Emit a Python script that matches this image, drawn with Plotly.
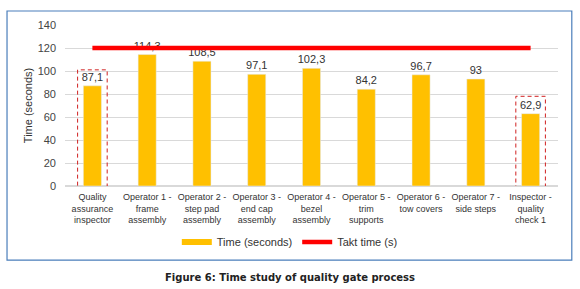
import plotly.graph_objects as go

categories = [
    "Quality<br>assurance<br>inspector",
    "Operator 1 -<br>frame<br>assembly",
    "Operator 2 -<br>step pad<br>assembly",
    "Operator 3 -<br>end cap<br>assembly",
    "Operator 4 -<br>bezel<br>assembly",
    "Operator 5 -<br>trim<br>supports",
    "Operator 6 -<br>tow covers",
    "Operator 7 -<br>side steps",
    "Inspector -<br>quality<br>check 1",
]
time_seconds = [87.1, 114.3, 108.5, 97.1, 102.3, 84.2, 96.7, 93.0, 62.9]
time_labels = ["87,1", "114,3", "108,5", "97,1", "102,3", "84,2", "96,7", "93", "62,9"]
takt_time = [120, 120, 120, 120, 120, 120, 120, 120, 120]
highlight_idx = [0, 8]
highlight_top = [101, 78]

x = list(range(len(categories)))

fig = go.Figure()
fig.add_trace(go.Bar(
    x=x, y=time_seconds, name="Time (seconds)", showlegend=False,
    marker=dict(color="#FFC000"),
    text=time_labels, textposition="outside", cliponaxis=False,
    constraintext="none",
    textfont=dict(family="Liberation Sans", size=11, color="#333333"),
))
# legend swatch for the bars (wide rectangle like the original)
fig.add_trace(go.Scatter(
    x=[None], y=[None], name="Time (seconds)", mode="lines",
    line=dict(color="#FFC000", width=6),
))
fig.add_trace(go.Scatter(
    x=x, y=takt_time, name="Takt time (s)", mode="lines",
    line=dict(color="#FF0000", width=4.5),
))

shapes = []
for i, top in zip(highlight_idx, highlight_top):
    shapes.append(dict(type="rect", xref="x", yref="y",
                       x0=i - 0.27, x1=i + 0.27, y0=-6, y1=top,
                       line=dict(color="#D02020", width=1, dash="4px,3px"),
                       fillcolor="rgba(0,0,0,0)"))
# outer frame
shapes.append(dict(type="rect", xref="paper", yref="paper",
                   x0=-0.1176, x1=1.028, y0=-0.46, y1=1.087,
                   line=dict(color="#4A7EBB", width=1.2), layer="below"))

fig.update_layout(
    width=580, height=289,
    margin=dict(l=65, r=22, t=25, b=103, autoexpand=False),
    paper_bgcolor="white", plot_bgcolor="white",
    bargap=0.67,
    showlegend=True,
    legend=dict(orientation="h", x=0.456, xanchor="center", y=-0.348, yanchor="middle",
                font=dict(family="Liberation Sans", size=11, color="#333333"),
                itemwidth=30, tracegroupgap=0),
    shapes=shapes,
    annotations=[dict(text="<b>Figure 6: Time study of quality gate process</b>",
                      xref="paper", yref="paper", x=0.456, y=-0.57,
                      xanchor="center", yanchor="middle", showarrow=False,
                      font=dict(family="DejaVu Sans", size=10, color="#222222"))],
    xaxis=dict(tickmode="array", tickvals=x, ticktext=categories,
               range=[-0.5, 8.5], showgrid=False, zeroline=False,
               showline=False, ticks="", automargin=False,
               ticklabelstandoff=4,
               tickfont=dict(family="Liberation Sans", size=9, color="#333333")),
    yaxis=dict(range=[0, 140], dtick=20, showgrid=True, gridcolor="#D9D9D9",
               zeroline=True, zerolinecolor="#D9D9D9", showline=False, automargin=False,
               ticklabelstandoff=8,
               tickfont=dict(family="Liberation Sans", size=11, color="#444444"),
               title=dict(text="Time (seconds)", standoff=2,
                          font=dict(family="Liberation Sans", size=11, color="#333333"))),
)

fig.write_html("out.html", config={"displayModeBar": False},
               post_script="document.body.style.margin='0px';")
